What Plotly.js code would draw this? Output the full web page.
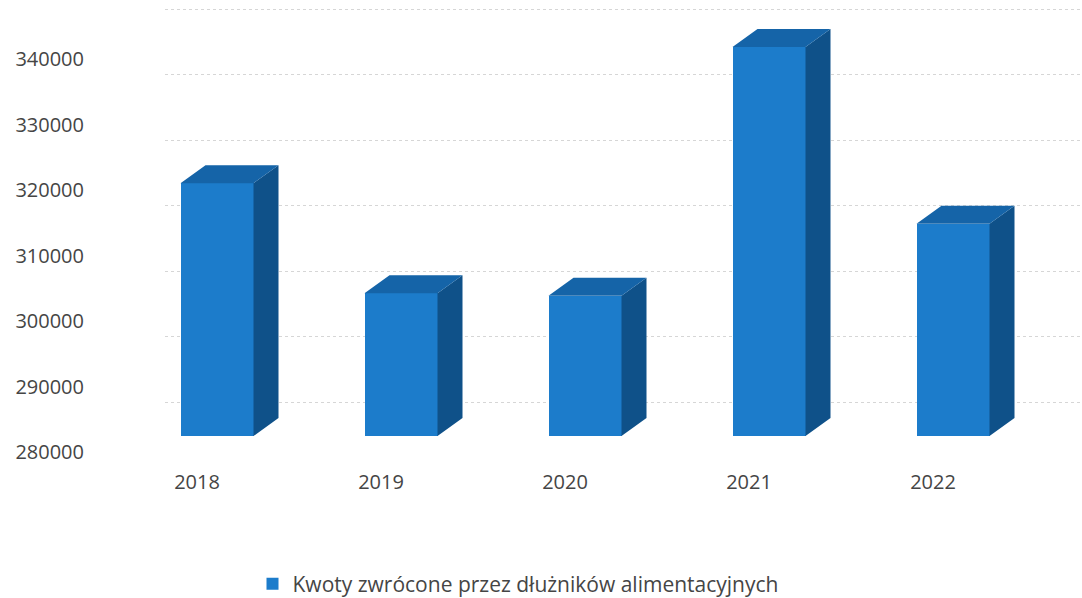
<!DOCTYPE html>
<html>
<head>
<meta charset="utf-8">
<script src="https://cdn.plot.ly/plotly-3.0.1.min.js"></script>
<style>html,body{margin:0;padding:0;background:#fff;}#chart{width:1082px;height:598px;}</style>
</head>
<body>
<div id="chart"></div>
<script>
// ---- data ----
const categories = ["2018", "2019", "2020", "2021", "2022"];
const values = [318600, 301800, 301400, 339400, 312400];
const seriesName = "Kwoty zwrócone przez dłużników alimentacyjnych";
const yTicks = [280000, 290000, 300000, 310000, 320000, 330000, 340000];
const yTickLabels = ["280000", "290000", "300000", "310000", "320000", "330000", "340000"];
const baseValue = 280000;

// ---- geometry / style constants (pixels) ----
const W = 1082, H = 598;
const PL = 165, PR = 1080, PT = 5, PB = 470;
const PX_CAT = 184, X0PX = 217;     // px per category, px of first category centre (front face)
const S = 65.5 / 10000;            // px per value unit
const BASE_PX = 436;               // px of base value on the front plane
const GRID_PX = 402;               // px of base value on the back wall
const LABEL_PX = 452;              // px of base value label
const DEPTH_X = 25, DEPTH_Y = 18;  // 3D depth offset in px
const BAR_W = 73 / PX_CAT;

const xr = [(PL - X0PX) / PX_CAT, (PR - X0PX) / PX_CAT];
const yr = [baseValue - (PB - BASE_PX) / S, baseValue + (BASE_PX - PT) / S];
const gridShift = (BASE_PX - GRID_PX) / S;
const DX = DEPTH_X / PX_CAT, DY = DEPTH_Y / S;

const xs = categories.map((c, i) => i);

const sideX = [], sideY = [], topX = [], topY = [];
values.forEach((v, i) => {
  const l = i - BAR_W / 2, r = i + BAR_W / 2;
  sideX.push(r, r + DX, r + DX, r, r, null);
  sideY.push(baseValue, baseValue + DY, v + DY, v, baseValue, null);
  topX.push(l, r, r + DX, l + DX, l, null);
  topY.push(v, v, v + DY, v + DY, v, null);
});

const traces = [
  {
    type: "bar", x: xs, y: values.map(v => v - baseValue), base: baseValue,
    width: BAR_W, name: seriesName,
    marker: {color: "#1c7ccb", line: {width: 0}},
    customdata: values, hovertemplate: "%{customdata}<extra></extra>"
  },
  {
    type: "scatter", mode: "lines", x: sideX, y: sideY, fill: "toself",
    fillcolor: "#0f5189", line: {width: 0, color: "#0f5189"},
    showlegend: false, hoverinfo: "skip"
  },
  {
    type: "scatter", mode: "lines", x: topX, y: topY, fill: "toself",
    fillcolor: "#1564a8", line: {width: 0, color: "#1564a8"},
    showlegend: false, hoverinfo: "skip"
  }
];

const layout = {
  width: W, height: H,
  margin: {l: PL, r: W - PR, t: PT, b: H - PB, pad: 0},
  paper_bgcolor: "#ffffff", plot_bgcolor: "#ffffff",
  font: {family: "Open Sans, sans-serif", size: 20, color: "#454545"},
  showlegend: true,
  xaxis: {
    range: xr, tickmode: "array", tickvals: xs, ticktext: categories,
    showgrid: false, zeroline: false, showline: false, ticks: "",
    ticklabelshift: -20, ticklabelstandoff: -2,
    tickfont: {size: 20, color: "#454545"}, fixedrange: true
  },
  yaxis: {
    range: yr, tickmode: "array",
    tickvals: yTicks.map(t => t + gridShift), ticktext: yTickLabels,
    showgrid: true, gridcolor: "#d6d6d6", gridwidth: 1, griddash: "dot",
    zeroline: false, showline: false, ticks: "",
    ticklabelshift: LABEL_PX - GRID_PX, ticklabelstandoff: 80,
    tickfont: {size: 20, color: "#454545"}, fixedrange: true
  },
  legend: {
    orientation: "h", xref: "container", yref: "container",
    x: 518 / W, xanchor: "center", y: 1 - 584 / H, yanchor: "middle",
    font: {size: 21, color: "#454545"}, bgcolor: "rgba(0,0,0,0)"
  },
  bargap: 0
};

Plotly.newPlot("chart", traces, layout, {displayModeBar: false, staticPlot: true});
</script>
</body>
</html>
